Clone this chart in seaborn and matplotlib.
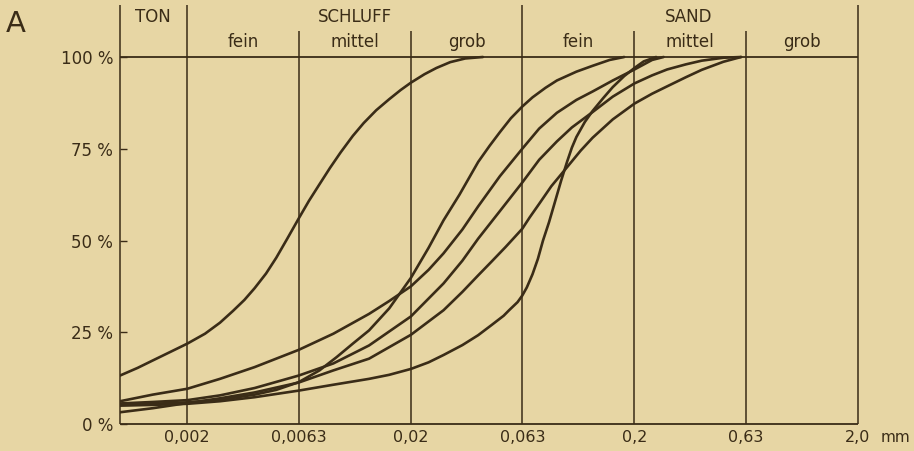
import numpy as np
import pandas as pd
import seaborn as sns
import matplotlib.pyplot as plt
from matplotlib.ticker import NullLocator

sns.set_style("white")
plt.rcParams['font.family'] = ['DejaVu Sans']

paper = '#E7D6A4'
ink = '#3A2C17'

# Korngrenzen (mm) und Beschriftung
grenzen_lang = [0.001, 0.002, 0.063, 2.0]
grenzen_kurz = [0.0063, 0.02, 0.2, 0.63]
xtick_werte = [0.002, 0.0063, 0.02, 0.063, 0.2, 0.63, 2.0]
xtick_text = ['0,002', '0,0063', '0,02', '0,063', '0,2', '0,63', '2,0']
ytick_werte = [0, 25, 50, 75, 100]
ytick_text = ['0 %', '25 %', '50 %', '75 %', '100 %']

hauptgruppen = ['TON', 'SCHLUFF', 'SAND']
hauptgruppen_x = [0.00141, 0.0112, 0.35]
untergruppen = ['fein', 'mittel', 'grob', 'fein', 'mittel', 'grob']
untergruppen_x = [0.00355, 0.0112, 0.0355, 0.112, 0.355, 1.12]

# Sieblinien (Korngroesse mm, Summe %)
kurve_a_mm = [0.001, 0.0012, 0.0014, 0.0017, 0.002, 0.0024, 0.0028, 0.0032, 0.0036, 0.004,
              0.0045, 0.005, 0.0056, 0.0063, 0.007, 0.0078, 0.0087, 0.0097, 0.011, 0.0123,
              0.014, 0.016, 0.018, 0.02, 0.023, 0.026, 0.03, 0.035, 0.042]
kurve_a_pct = [13.2, 15.3, 17.3, 19.8, 21.9, 24.6, 27.6, 30.8, 33.8, 37.0,
               41.0, 45.3, 50.5, 56.0, 60.8, 65.3, 69.8, 74.0, 78.5, 82.0,
               85.5, 88.5, 91.0, 93.0, 95.3, 97.0, 98.6, 99.6, 100.0]

kurve_b_mm = [0.001, 0.0014, 0.002, 0.0028, 0.004, 0.005, 0.0063, 0.0078, 0.0093, 0.011,
              0.013, 0.016, 0.02, 0.024, 0.028, 0.033, 0.04, 0.045, 0.05, 0.056,
              0.063, 0.07, 0.08, 0.09, 0.11, 0.13, 0.155, 0.18]
kurve_b_pct = [5.3, 5.5, 5.9, 6.6, 8.0, 9.3, 11.4, 14.6, 18.2, 21.9,
               25.5, 31.5, 39.8, 48.0, 55.5, 62.5, 71.4, 75.8, 79.5, 83.3,
               86.5, 89.0, 91.6, 93.6, 96.0, 97.6, 99.2, 100.0]

kurve_c_mm = [0.001, 0.0014, 0.002, 0.0028, 0.004, 0.0063, 0.009, 0.013, 0.016, 0.02,
              0.024, 0.028, 0.034, 0.04, 0.05, 0.063, 0.075, 0.09, 0.11, 0.13,
              0.16, 0.2, 0.24, 0.27]
kurve_c_pct = [6.2, 8.0, 9.6, 12.3, 15.5, 20.2, 24.6, 30.0, 33.5, 37.5,
               42.0, 46.5, 53.0, 59.3, 67.5, 75.0, 80.5, 84.8, 88.3, 90.6,
               93.6, 96.6, 99.2, 100.0]

kurve_d_mm = [0.001, 0.0014, 0.002, 0.0028, 0.004, 0.0063, 0.009, 0.013, 0.02, 0.028,
              0.034, 0.04, 0.05, 0.063, 0.075, 0.09, 0.105, 0.13, 0.16, 0.2,
              0.24, 0.28, 0.34, 0.4, 0.5, 0.6]
kurve_d_pct = [5.6, 6.0, 6.5, 7.8, 9.8, 13.2, 16.5, 21.4, 29.3, 38.3,
               44.5, 50.5, 58.0, 65.8, 72.0, 77.0, 80.8, 85.0, 89.2, 92.8,
               95.0, 96.6, 98.0, 99.0, 99.8, 100.0]

kurve_e_mm = [0.001, 0.0014, 0.002, 0.0028, 0.004, 0.0063, 0.009, 0.013, 0.02, 0.028,
              0.034, 0.04, 0.046, 0.053, 0.058, 0.063, 0.068, 0.075, 0.085, 0.1,
              0.115, 0.13, 0.16, 0.2, 0.24, 0.28, 0.34, 0.4, 0.5, 0.6]
kurve_e_pct = [3.2, 4.3, 5.7, 7.0, 8.6, 11.3, 14.6, 17.8, 24.3, 31.0,
               36.0, 40.5, 44.3, 48.2, 50.8, 53.2, 56.3, 60.0, 64.8, 70.0,
               74.5, 78.0, 83.0, 87.3, 90.0, 92.0, 94.5, 96.5, 98.7, 100.0]

kurve_f_mm = [0.001, 0.0014, 0.002, 0.0028, 0.004, 0.0063, 0.009, 0.013, 0.016, 0.02,
              0.024, 0.028, 0.034, 0.04, 0.046, 0.052, 0.055, 0.06, 0.063, 0.066,
              0.07, 0.074, 0.078, 0.083, 0.088, 0.094, 0.1, 0.105, 0.11, 0.12,
              0.13, 0.145, 0.16, 0.18, 0.2, 0.22, 0.25]
kurve_f_pct = [5.0, 5.2, 5.5, 6.2, 7.3, 9.1, 10.7, 12.3, 13.4, 15.0,
               16.8, 18.8, 21.5, 24.2, 27.0, 29.5, 31.0, 33.2, 35.0, 37.2,
               40.8, 45.0, 50.0, 55.0, 60.3, 66.3, 71.5, 75.3, 78.2, 82.3,
               85.3, 88.8, 91.8, 94.8, 97.0, 98.8, 100.0]

kurven = {
    'a': (kurve_a_mm, kurve_a_pct),
    'b': (kurve_b_mm, kurve_b_pct),
    'c': (kurve_c_mm, kurve_c_pct),
    'd': (kurve_d_mm, kurve_d_pct),
    'e': (kurve_e_mm, kurve_e_pct),
    'f': (kurve_f_mm, kurve_f_pct),
}
df = pd.concat([pd.DataFrame({'kurve': k, 'mm': mm, 'pct': pct})
                for k, (mm, pct) in kurven.items()], ignore_index=True)

# Figure
fig = plt.figure(figsize=(9.14, 4.51), dpi=100, facecolor=paper)
ax = fig.add_axes([120 / 914, 1 - 424 / 451, 738 / 914, 419 / 451])
ax.set_facecolor(paper)
ax.set_xscale('log')
ymax = 419 / 3.67
ax.set_xlim(0.001, 2.0)
ax.set_ylim(0, ymax)

sns.lineplot(data=df, x='mm', y='pct', units='kurve', estimator=None, sort=False,
             color=ink, linewidth=1.9, ax=ax, legend=False)

for s in ax.spines.values():
    s.set_visible(False)

# Rasterlinien der Kornklassen
ax.vlines(grenzen_lang, 0, ymax, color=ink, linewidth=1.1, clip_on=False)
ax.vlines(grenzen_kurz, 0, 100 + 26 * 0.2725, color=ink, linewidth=1.1, clip_on=False)
ax.hlines([0, 100], 0.001, 2.0, color=ink, linewidth=1.3, clip_on=False)

# Achsen
ax.xaxis.set_minor_locator(NullLocator())
ax.set_xticks(xtick_werte)
ax.set_xticklabels(xtick_text)
ax.set_yticks(ytick_werte)
ax.set_yticklabels(ytick_text)
ax.tick_params(axis='x', length=0, pad=4, labelsize=11.5, labelcolor=ink)
ax.tick_params(axis='y', direction='in', length=5, width=1, color=ink, pad=5,
               labelsize=12, labelcolor=ink, left=True)
ax.set_xlabel('')
ax.set_ylabel('')
ax.annotate('mm', xy=(2.0, 0), xytext=(16, -4), textcoords='offset points',
            ha='left', va='top', fontsize=11, color=ink)

# Kornklassen-Beschriftung
for name, x in zip(hauptgruppen, hauptgruppen_x):
    ax.text(x, 109.6, name, ha='center', va='baseline', fontsize=12, color=ink)
for name, x in zip(untergruppen, untergruppen_x):
    ax.text(x, 102.8, name, ha='center', va='baseline', fontsize=12, color=ink)

fig.text(16 / 914, 1 - 31.7 / 451, 'A', ha='center', va='baseline',
         fontsize=21, color=ink)

fig.savefig('out.png', dpi=100, facecolor=paper)
